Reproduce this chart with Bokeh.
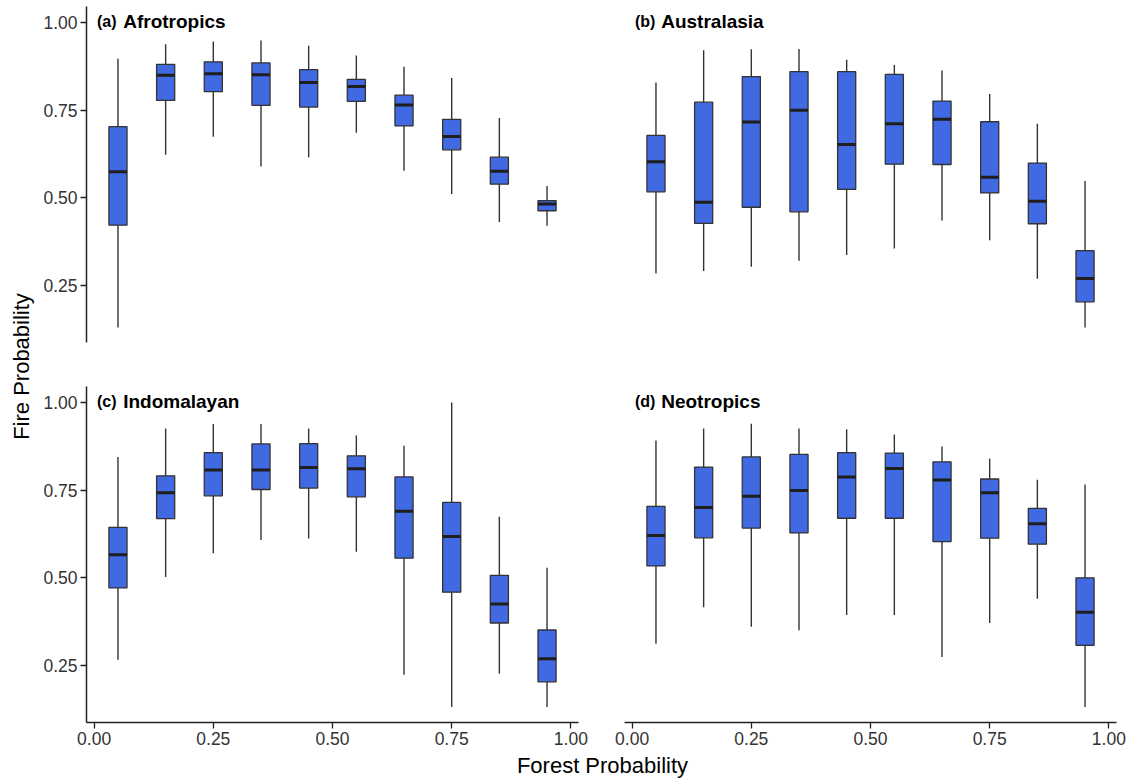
import math
from bokeh.plotting import figure
from bokeh.models import (Range1d, FixedTicker, NumeralTickFormatter, Label,
                          ColumnDataSource, LinearAxis)
from bokeh.layouts import row, column
from bokeh.core.properties import value
from bokeh.embed import file_html
from bokeh.resources import INLINE

# ---------------- data ----------------
FOREST = [0.05, 0.15, 0.25, 0.35, 0.45, 0.55, 0.65, 0.75, 0.85, 0.95]

REGIONS = ["Afrotropics", "Australasia", "Indomalayan", "Neotropics"]
TAGS = ["(a)", "(b)", "(c)", "(d)"]

# whisker high, upper quartile, median, lower quartile, whisker low
AFRO_HI = [0.897, 0.938, 0.946, 0.949, 0.934, 0.906, 0.874, 0.842, 0.728, 0.534]
AFRO_Q3 = [0.703, 0.881, 0.888, 0.885, 0.866, 0.838, 0.793, 0.724, 0.616, 0.492]
AFRO_MED = [0.574, 0.850, 0.854, 0.851, 0.829, 0.818, 0.765, 0.675, 0.576, 0.482]
AFRO_Q1 = [0.422, 0.778, 0.803, 0.764, 0.759, 0.775, 0.705, 0.637, 0.539, 0.463]
AFRO_LO = [0.130, 0.623, 0.674, 0.589, 0.616, 0.686, 0.577, 0.511, 0.431, 0.420]

AUS_HI = [0.829, 0.921, 0.924, 0.925, 0.894, 0.879, 0.863, 0.796, 0.711, 0.548]
AUS_Q3 = [0.678, 0.773, 0.846, 0.860, 0.860, 0.852, 0.776, 0.717, 0.599, 0.349]
AUS_MED = [0.603, 0.487, 0.716, 0.750, 0.652, 0.711, 0.724, 0.559, 0.490, 0.270]
AUS_Q1 = [0.517, 0.427, 0.473, 0.460, 0.524, 0.596, 0.595, 0.514, 0.426, 0.203]
AUS_LO = [0.284, 0.291, 0.303, 0.320, 0.337, 0.355, 0.435, 0.379, 0.269, 0.130]

INDO_HI = [0.845, 0.926, 0.939, 0.939, 0.926, 0.906, 0.877, 1.000, 0.674, 0.529]
INDO_Q3 = [0.644, 0.791, 0.857, 0.882, 0.883, 0.848, 0.788, 0.715, 0.507, 0.351]
INDO_MED = [0.566, 0.743, 0.808, 0.808, 0.815, 0.811, 0.690, 0.618, 0.425, 0.269]
INDO_Q1 = [0.471, 0.669, 0.734, 0.752, 0.756, 0.731, 0.556, 0.459, 0.371, 0.203]
INDO_LO = [0.266, 0.502, 0.570, 0.608, 0.612, 0.574, 0.223, 0.131, 0.226, 0.131]

NEO_HI = [0.892, 0.926, 0.940, 0.926, 0.924, 0.909, 0.875, 0.840, 0.780, 0.766]
NEO_Q3 = [0.704, 0.816, 0.845, 0.852, 0.857, 0.856, 0.831, 0.782, 0.698, 0.500]
NEO_MED = [0.621, 0.701, 0.733, 0.749, 0.788, 0.812, 0.779, 0.743, 0.654, 0.402]
NEO_Q1 = [0.534, 0.614, 0.642, 0.628, 0.670, 0.670, 0.603, 0.613, 0.596, 0.307]
NEO_LO = [0.312, 0.416, 0.360, 0.350, 0.394, 0.394, 0.274, 0.371, 0.440, 0.131]

X_TICKS = [0.0, 0.25, 0.50, 0.75, 1.0]
Y_TICKS = [0.25, 0.50, 0.75, 1.0]

X_TITLE = "Forest Probability"
Y_TITLE = "Fire Probability"

# ---------------- style ----------------
FONT = "Liberation Sans"
FILL = "#4169E1"
EDGE = "#333333"
BOX_W = 0.038
FRAME_W = 492
FRAME_H = 336
X_LO, X_HI = -0.016, 1.016
Y_LO, Y_HI = 0.087, 1.046


def style_axis(ax):
    ax.axis_line_color = "#222222"
    ax.axis_line_width = 1.5
    ax.major_tick_line_color = "#222222"
    ax.major_tick_line_width = 1.3
    ax.major_tick_out = 6
    ax.major_tick_in = 0
    ax.minor_tick_out = 0
    ax.minor_tick_in = 0
    ax.major_label_standoff = 3
    ax.major_label_text_font = FONT
    ax.major_label_text_font_size = "17.5px"
    ax.major_label_text_color = "#333333"


def panel(idx, stats, show_x, show_y, b_left, b_right, b_top, b_bottom):
    hi, q3, med, q1, lo = stats
    p = figure(width=b_left + FRAME_W + b_right, height=b_top + FRAME_H + b_bottom,
               x_range=Range1d(X_LO, X_HI), y_range=Range1d(Y_LO, Y_HI),
               x_axis_type=None, y_axis_type=None,
               output_backend="svg", toolbar_location=None)
    p.min_border_left = b_left
    p.min_border_right = b_right
    p.min_border_top = b_top
    p.min_border_bottom = b_bottom
    p.outline_line_color = None
    p.background_fill_color = "white"
    p.border_fill_color = "white"

    src = ColumnDataSource(dict(
        x=FOREST, hi=hi, q3=q3, med=med, q1=q1, lo=lo,
        xl=[v - BOX_W / 2 for v in FOREST], xr=[v + BOX_W / 2 for v in FOREST]))
    p.segment(x0="x", y0="lo", x1="x", y1="q1", source=src,
              line_color=EDGE, line_width=1.4)
    p.segment(x0="x", y0="q3", x1="x", y1="hi", source=src,
              line_color=EDGE, line_width=1.4)
    p.vbar(x="x", bottom="q1", top="q3", width=BOX_W, source=src,
           fill_color=FILL, line_color=EDGE, line_width=1.3)
    p.segment(x0="xl", y0="med", x1="xr", y1="med", source=src,
              line_color="#1e1e1e", line_width=3)

    p.text(x=[0.006], y=[1.004], text=[TAGS[idx]], text_font=value(FONT),
           text_font_style="bold", text_font_size="16px", text_color="black",
           text_align="left", text_baseline="middle")
    p.text(x=[0.061], y=[1.004], text=[REGIONS[idx]], text_font=value(FONT),
           text_font_style="bold", text_font_size="19px", text_color="black",
           text_align="left", text_baseline="middle")

    if show_x:
        ax = LinearAxis(ticker=FixedTicker(ticks=X_TICKS, minor_ticks=[]),
                        formatter=NumeralTickFormatter(format="0.00"))
        style_axis(ax)
        p.add_layout(ax, "below")
    if show_y:
        ay = LinearAxis(ticker=FixedTicker(ticks=Y_TICKS, minor_ticks=[]),
                        formatter=NumeralTickFormatter(format="0.00"))
        style_axis(ay)
        p.add_layout(ay, "left")
    return p


YL_W = 38
p_a = panel(0, (AFRO_HI, AFRO_Q3, AFRO_MED, AFRO_Q1, AFRO_LO), False, True, 48, 23, 6, 22)
p_b = panel(1, (AUS_HI, AUS_Q3, AUS_MED, AUS_Q1, AUS_LO), False, False, 23, 12, 6, 22)
p_c = panel(2, (INDO_HI, INDO_Q3, INDO_MED, INDO_Q1, INDO_LO), True, True, 48, 23, 22, 30)
p_d = panel(3, (NEO_HI, NEO_Q3, NEO_MED, NEO_Q1, NEO_LO), True, False, 23, 12, 22, 30)

GRID_H = (6 + FRAME_H + 22) + (22 + FRAME_H + 30)
TOTAL_W = YL_W + (48 + FRAME_W + 23) + (23 + FRAME_W + 12)

ylab = figure(width=YL_W, height=GRID_H, x_range=Range1d(0, YL_W), y_range=Range1d(GRID_H, 0),
              x_axis_type=None, y_axis_type=None, min_border=0,
              output_backend="svg", toolbar_location=None)
ylab.outline_line_color = None
ylab.add_layout(Label(x=21, y=366, text=Y_TITLE, angle=math.pi / 2,
                      text_align="center", text_baseline="middle",
                      text_font=FONT, text_font_size="22px", text_color="black"))

XL_H = 26
xlab = figure(width=TOTAL_W, height=XL_H, x_range=Range1d(0, TOTAL_W), y_range=Range1d(XL_H, 0),
              x_axis_type=None, y_axis_type=None, min_border=0,
              output_backend="svg", toolbar_location=None)
xlab.outline_line_color = None
xlab.add_layout(Label(x=602, y=13, text=X_TITLE,
                      text_align="center", text_baseline="middle",
                      text_font=FONT, text_font_size="22px", text_color="black"))

layout = column(row(ylab, column(row(p_a, p_b), row(p_c, p_d))), xlab)

open("out.html", "w").write(file_html(layout, INLINE))
